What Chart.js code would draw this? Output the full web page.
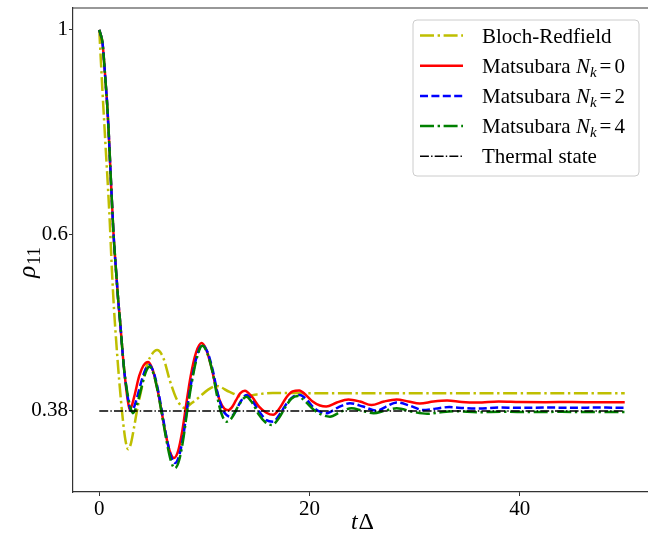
<!DOCTYPE html>
<html><head><meta charset="utf-8">
<script src="https://cdn.jsdelivr.net/npm/chart.js@4"></script>
<style>html,body{margin:0;padding:0;background:#fff;overflow:hidden;}#wrap{width:660px;height:535px;}</style>
</head><body><div id="wrap"><canvas id="c" width="660" height="535"></canvas></div>
<script>
// ---- data ----
const tBR=[0,0.15,0.3,0.46,0.6,0.8,1.0,1.2,1.41,1.6,1.79,2.0,2.27,2.5,2.74,3.0,3.3,3.6,4.0,4.4,4.8,5.5,6.1,6.7,7.4,8.14,8.8,9.57,10.3,11.16,12.4,13.7,15,16.5,20,25,30,35,40,45,50];
const vBR=[1,0.927,0.860,0.798,0.748,0.684,0.619,0.550,0.497,0.462,0.432,0.4045,0.376,0.359,0.3516,0.3563,0.3707,0.3877,0.4074,0.4283,0.4413,0.4501,0.4413,0.4178,0.3975,0.3897,0.3945,0.4008,0.4074,0.4116,0.4055,0.4008,0.403,0.4045,0.4043,0.4043,0.4043,0.4043,0.4043,0.4043,0.4043];

const tM0=[0,0.15,0.3,0.45,0.6,0.75,0.9,1.05,1.2,1.35,1.5,1.65,1.8,1.95,2.1,2.25,2.4,2.55,2.7,2.9,3.1,3.4,3.8,4.2,4.65,5.1,5.5,5.9,6.3,6.7,7.1,7.5,7.9,8.3,8.7,9.2,9.73,10.2,10.7,11.1,11.5,11.9,12.27,12.6,13.0,13.4,13.86,14.5,15.2,15.9,16.55,17.2,17.8,18.4,19.03,19.7,20.3,21.0,21.6,22.6,23.7,24.8,25.9,27.1,28.3,29.4,30.5,31.8,33.1,34.5,36,38,40,42.5,45,47.5,50];
const vM0=[1,0.987,0.970,0.927,0.878,0.831,0.773,0.710,0.653,0.603,0.568,0.538,0.510,0.488,0.465,0.443,0.425,0.410,0.398,0.388,0.392,0.404,0.422,0.433,0.437,0.428,0.410,0.388,0.366,0.350,0.344,0.350,0.368,0.395,0.422,0.447,0.458,0.450,0.430,0.410,0.396,0.389,0.3875,0.390,0.397,0.404,0.4068,0.401,0.391,0.385,0.383,0.390,0.400,0.406,0.407,0.402,0.396,0.392,0.391,0.395,0.398,0.396,0.3925,0.396,0.398,0.396,0.394,0.396,0.397,0.3955,0.395,0.396,0.3955,0.3953,0.3955,0.3952,0.3952];

const tM2=[0,0.15,0.3,0.45,0.6,0.75,0.9,1.05,1.2,1.35,1.5,1.65,1.8,1.95,2.1,2.25,2.4,2.55,2.7,2.9,3.07,3.3,3.6,4.0,4.4,4.75,5.2,5.6,6.0,6.4,6.8,7.19,7.6,8.0,8.4,8.8,9.3,9.8,10.3,10.8,11.2,11.7,12.1,12.5,12.9,13.4,14.0,14.6,15.3,15.9,16.55,17.2,17.9,18.5,19.1,19.8,20.4,21.0,21.6,22.7,23.86,25.1,26.4,27.3,28.3,29.5,30.8,32,33.3,34.7,36,38,40,42.5,45,47.5,50];
const vM2=[1,0.987,0.970,0.927,0.878,0.831,0.773,0.710,0.653,0.603,0.568,0.538,0.510,0.488,0.465,0.443,0.425,0.412,0.401,0.390,0.3864,0.390,0.400,0.416,0.429,0.4337,0.425,0.407,0.384,0.362,0.346,0.3396,0.346,0.364,0.392,0.418,0.444,0.4558,0.448,0.428,0.407,0.389,0.383,0.3813,0.385,0.395,0.4024,0.396,0.385,0.378,0.3765,0.384,0.395,0.401,0.4024,0.397,0.390,0.386,0.3845,0.390,0.3942,0.391,0.387,0.391,0.3951,0.392,0.3877,0.389,0.3905,0.3895,0.389,0.3900,0.3898,0.3900,0.3899,0.3900,0.3899];

const tM4=[0,0.15,0.3,0.45,0.6,0.75,0.9,1.05,1.2,1.35,1.5,1.65,1.8,1.95,2.1,2.25,2.4,2.55,2.7,2.9,3.2,3.5,3.8,4.2,4.5,4.8,5.2,5.6,6.0,6.4,6.8,7.19,7.6,8.0,8.4,8.8,9.3,9.8,10.3,10.8,11.2,11.6,12.1,12.6,13.2,14.0,14.6,15.2,15.8,16.4,17.1,17.8,18.3,18.9,19.6,20.4,21.2,21.95,23.0,24.0,25.0,26.1,27.2,28.3,29.8,31.2,32.5,34,36,38.5,41,44,47,50];
const vM4=[1,0.987,0.970,0.927,0.878,0.831,0.773,0.710,0.653,0.603,0.568,0.538,0.510,0.488,0.465,0.443,0.425,0.413,0.403,0.393,0.3845,0.390,0.401,0.418,0.428,0.432,0.423,0.404,0.381,0.359,0.342,0.3353,0.342,0.361,0.389,0.415,0.442,0.455,0.446,0.425,0.402,0.385,0.3765,0.380,0.391,0.4008,0.394,0.383,0.376,0.3734,0.380,0.392,0.399,0.4014,0.396,0.388,0.383,0.3813,0.386,0.3893,0.387,0.3845,0.387,0.3893,0.386,0.384,0.3855,0.3865,0.3855,0.386,0.3857,0.3859,0.3857,0.3858];

const tThermal=[0,50];
const vThermal=[0.3868,0.3868];

const xTickValues=[0,20,40];
const yTickValues=[0.3868,0.6,1];
const yTickLabels=['0.38','0.6','1'];
const seriesLabels=['Bloch-Redfield','Matsubara N_k = 0','Matsubara N_k = 2','Matsubara N_k = 4','Thermal state'];
const seriesColors=['#bfbf00','#ff0000','#0000ff','#008000','#000000'];

// ---- chart ----
const SERIF='"Liberation Serif","Times New Roman",serif';
function pts(t,v){return t.map((x,i)=>({x:x,y:v[i]}));}
const LW=2.5;
function ds(i,t,v,dash,lw,order){
  return {label:seriesLabels[i],data:pts(t,v),borderColor:seriesColors[i],backgroundColor:seriesColors[i],
    borderWidth:lw,borderDash:dash,pointRadius:0,fill:false,cubicInterpolationMode:'monotone',order:order};
}
const datasets=[
  ds(0,tBR,vBR,[14,3.6,2.4,3.6],LW,5),
  ds(1,tM0,vM0,[],LW,4),
  ds(2,tM2,vM2,[8,3.4],LW,3),
  ds(3,tM4,vM4,[14,3.6,2.4,3.6],LW,2),
  ds(4,tThermal,vThermal,[8.9,2.2,1.4,2.2],1.5,1)
];

function drawMathLabel(ctx,label,x,yBase){
  const parts=label.split('N_k');
  ctx.font='21px '+SERIF;
  ctx.fillText(parts[0],x,yBase);
  let cx=x+ctx.measureText(parts[0]).width;
  if(parts.length>1){
    ctx.font='italic 21px '+SERIF;
    ctx.fillText('N',cx,yBase); cx+=ctx.measureText('N').width;
    ctx.font='italic 15px '+SERIF;
    ctx.fillText('k',cx,yBase+4); cx+=ctx.measureText('k').width+3;
    const rest=parts[1].trim().split(' ');
    ctx.font='21px '+SERIF;
    rest.forEach(s=>{ctx.fillText(s,cx,yBase); cx+=ctx.measureText(s).width+3;});
  }
}

const decor={id:'decor',afterDraw(chart){
  const ctx=chart.ctx,a=chart.chartArea;
  ctx.save();
  ctx.strokeStyle='#333';ctx.lineWidth=1.2;
  ctx.beginPath();ctx.moveTo(a.left,a.top);ctx.lineTo(a.right,a.top);ctx.lineTo(a.right,a.bottom);ctx.stroke();
  ctx.fillStyle='#000';ctx.textBaseline='alphabetic';ctx.textAlign='left';
  // x title
  ctx.font='italic 24px '+SERIF; const wt=ctx.measureText('t').width;
  ctx.font='24px '+SERIF; const wd=ctx.measureText('\u0394').width;
  let x0=(a.left+a.right)/2-(wt+wd)/2;
  ctx.font='italic 24px '+SERIF; ctx.fillText('t',x0,529);
  ctx.font='24px '+SERIF; ctx.fillText('\u0394',x0+wt+1,529);
  // y title
  ctx.save(); ctx.translate(35,(a.top+a.bottom)/2+13); ctx.rotate(-Math.PI/2);
  ctx.font='italic 25px '+SERIF; const wr=ctx.measureText('\u03c1').width;
  ctx.font='18px '+SERIF; const w11=ctx.measureText('11').width;
  const sx=-(wr+w11)/2;
  ctx.font='italic 25px '+SERIF; ctx.fillText('\u03c1',sx,0);
  ctx.font='18px '+SERIF; ctx.fillText('11',sx+wr+1,5);
  ctx.restore();
  // legend
  const bx=413,by=20,bw=226,bh=156,r=4;
  ctx.beginPath();
  ctx.moveTo(bx+r,by);ctx.lineTo(bx+bw-r,by);ctx.quadraticCurveTo(bx+bw,by,bx+bw,by+r);
  ctx.lineTo(bx+bw,by+bh-r);ctx.quadraticCurveTo(bx+bw,by+bh,bx+bw-r,by+bh);
  ctx.lineTo(bx+r,by+bh);ctx.quadraticCurveTo(bx,by+bh,bx,by+bh-r);
  ctx.lineTo(bx,by+r);ctx.quadraticCurveTo(bx,by,bx+r,by);ctx.closePath();
  ctx.fillStyle='rgba(255,255,255,0.8)';ctx.fill();
  ctx.strokeStyle='#cccccc';ctx.lineWidth=1;ctx.stroke();
  chart.data.datasets.forEach((d,i)=>{
    const y=35.5+i*30.2;
    ctx.save();ctx.strokeStyle=d.borderColor;ctx.lineWidth=d.borderWidth;ctx.setLineDash(d.borderDash||[]);
    ctx.beginPath();ctx.moveTo(420,y);ctx.lineTo(463,y);ctx.stroke();ctx.restore();
    ctx.fillStyle='#000';
    drawMathLabel(ctx,d.label,482,y+7);
  });
  ctx.restore();
}};

new Chart(document.getElementById('c'),{
  type:'line',
  data:{datasets:datasets},
  options:{
    responsive:false,animation:false,devicePixelRatio:1,
    layout:{padding:{left:0,top:8,right:9,bottom:0}},
    plugins:{legend:{display:false},tooltip:{enabled:false}},
    scales:{
      x:{type:'linear',min:-2.5,max:52.5,
        afterBuildTicks:s=>{s.ticks=xTickValues.map(v=>({value:v}));},
        afterFit:s=>{s.height=43;s.paddingLeft=0;s.paddingRight=0;},
        grid:{drawOnChartArea:false,drawTicks:true,tickLength:4,color:'#333',tickWidth:1},
        border:{color:'#333',width:1.2},
        ticks:{font:{family:SERIF,size:21},color:'#000',padding:1,maxRotation:0,autoSkip:false}},
      y:{type:'logarithmic',min:0.316,max:1.056,
        afterBuildTicks:s=>{s.ticks=yTickValues.map(v=>({value:v}));},
        afterFit:s=>{s.width=73;s.paddingTop=0;s.paddingBottom=0;},
        grid:{drawOnChartArea:false,drawTicks:true,tickLength:4,color:'#333',tickWidth:1},
        border:{color:'#333',width:1.2},
        ticks:{font:{family:SERIF,size:21},color:'#000',padding:1,autoSkip:false,
          callback:(v)=>{let best=0;yTickValues.forEach((tv,i)=>{if(Math.abs(tv-v)<Math.abs(yTickValues[best]-v))best=i;});return yTickLabels[best];}}}
    }
  },
  plugins:[decor]
});
</script></body></html>
